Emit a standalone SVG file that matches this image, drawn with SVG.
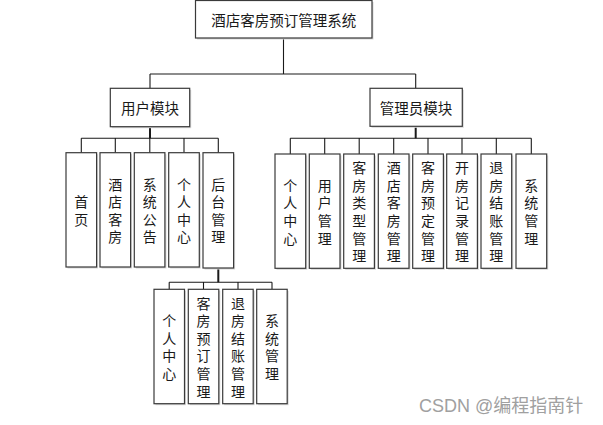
<svg xmlns="http://www.w3.org/2000/svg" width="603" height="425" viewBox="0 0 603 425">
<style>
.box{fill:#ffffff;stroke:#3a3a3a;stroke-width:1.2}
.sh{fill:#d8d8d8}
.ln{stroke:#1a1a1a;stroke-width:1.1;fill:none}
.lt{stroke:#1a1a1a;stroke-width:2;fill:none}
text{font-family:"Noto Sans CJK SC","Liberation Sans",sans-serif;font-size:14px;fill:#1a1a1a;text-anchor:middle;dominant-baseline:central}
.wm{font-family:"Liberation Sans","Noto Sans CJK SC",sans-serif;font-size:18px;fill:#a0a0a0;text-anchor:start;dominant-baseline:auto}
</style>
<rect width="603" height="425" fill="#ffffff"/>
<g id="connectors">
<path class="ln" d="M283.5 38V74M150 74H415.7"/>
<path class="ln" d="M150 74V88.3M415.7 74V88.3"/>
<path class="lt" d="M150 126.7V138.3"/>
<path class="ln" d="M81.3 138.3H218.3M81.3 138.3V152.7M115.3 138.3V152.7M149.8 138.3V152.7M184 138.3V152.7M218.3 138.3V152.7"/>
<path class="lt" d="M218.3 268V282.3"/>
<path class="ln" d="M169.2 282.3H272M169.2 282.3V289.3M203.5 282.3V289.3M238 282.3V289.3M272 282.3V289.3"/>
<path class="lt" d="M415.7 126.3V138.3"/>
<path class="ln" d="M290.3 138.3H531.3M290.3 138.3V154M324.7 138.3V154M359.2 138.3V154M393.7 138.3V154M428 138.3V154M462 138.3V154M496.3 138.3V154M531.3 138.3V154"/>
</g>
<g id="root"><rect class="sh" x="197" y="2" width="176.5" height="37.5"/><rect class="box" x="195.5" y="0.5" width="176.5" height="37.5"/><text x="283.8" y="19" style="font-size:14.5px">酒店客房预订管理系统</text></g>
<g id="user"><rect class="sh" x="111.8" y="89.8" width="79.4" height="38.4"/><rect class="box" x="110.3" y="88.3" width="79.4" height="38.4"/><text x="150" y="107.5" style="font-size:14.5px">用户模块</text></g>
<g id="admin"><rect class="sh" x="371.5" y="89.8" width="92.3" height="38"/><rect class="box" x="370" y="88.3" width="92.3" height="38"/><text x="416" y="107.3" style="font-size:14.5px">管理员模块</text></g>

<g id="u1"><rect class="sh" x="67.5" y="154.2" width="30.6" height="114.3"/><rect class="box" x="66" y="152.7" width="30.6" height="114.3"/><text x="81.3 81.3" y="201.2 218.8">首页</text></g>
<g id="u2"><rect class="sh" x="101.5" y="154.2" width="30.6" height="114.3"/><rect class="box" x="100" y="152.7" width="30.6" height="114.3"/><text x="115.3 115.3 115.3 115.3" y="183.6 201.2 218.8 236.4">酒店客房</text></g>
<g id="u3"><rect class="sh" x="135.8" y="154.2" width="30.6" height="114.3"/><rect class="box" x="134.3" y="152.7" width="30.6" height="114.3"/><text x="149.8 149.8 149.8 149.8" y="183.6 201.2 218.8 236.4">系统公告</text></g>
<g id="u4"><rect class="sh" x="170.2" y="154.2" width="30.6" height="114.3"/><rect class="box" x="168.7" y="152.7" width="30.6" height="114.3"/><text x="184 184 184 184" y="183.6 201.2 218.8 236.4">个人中心</text></g>
<g id="u5"><rect class="sh" x="204.5" y="154.2" width="30.6" height="115.3"/><rect class="box" x="203" y="152.7" width="30.6" height="115.3"/><text x="218.3 218.3 218.3 218.3" y="183.6 201.2 218.8 236.4">后台管理</text></g>

<g id="s1"><rect class="sh" x="155.5" y="290.8" width="30.5" height="114.4"/><rect class="box" x="154" y="289.3" width="30.5" height="114.4"/><text x="169.2 169.2 169.2 169.2" y="320.1 337.7 355.3 372.9">个人中心</text></g>
<g id="s2"><rect class="sh" x="189.8" y="290.8" width="30.5" height="114.4"/><rect class="box" x="188.3" y="289.3" width="30.5" height="114.4"/><text x="203.5 203.5 203.5 203.5 203.5 203.5" y="302.5 320.1 337.7 355.3 372.9 390.5">客房预订管理</text></g>
<g id="s3"><rect class="sh" x="224.2" y="290.8" width="30.5" height="114.4"/><rect class="box" x="222.7" y="289.3" width="30.5" height="114.4"/><text x="238 238 238 238 238 238" y="302.5 320.1 337.7 355.3 372.9 390.5">退房结账管理</text></g>
<g id="s4"><rect class="sh" x="258.2" y="290.8" width="30.5" height="114.4"/><rect class="box" x="256.7" y="289.3" width="30.5" height="114.4"/><text x="272 272 272 272" y="320.1 337.7 355.3 372.9">系统管理</text></g>

<g id="a1"><rect class="sh" x="276.5" y="155.5" width="30.7" height="114.3"/><rect class="box" x="275" y="154" width="30.7" height="114.3"/><text x="290.3 290.3 290.3 290.3" y="184.8 202.4 220 237.6">个人中心</text></g>
<g id="a2"><rect class="sh" x="310.8" y="155.5" width="30.7" height="114.3"/><rect class="box" x="309.3" y="154" width="30.7" height="114.3"/><text x="324.7 324.7 324.7 324.7" y="184.8 202.4 220 237.6">用户管理</text></g>
<g id="a3"><rect class="sh" x="345.2" y="155.5" width="30.7" height="114.3"/><rect class="box" x="343.7" y="154" width="30.7" height="114.3"/><text x="359.2 359.2 359.2 359.2 359.2 359.2" y="167.2 184.8 202.4 220 237.6 255.2">客房类型管理</text></g>
<g id="a4"><rect class="sh" x="379.8" y="155.5" width="30.7" height="114.3"/><rect class="box" x="378.3" y="154" width="30.7" height="114.3"/><text x="393.7 393.7 393.7 393.7 393.7 393.7" y="167.2 184.8 202.4 220 237.6 255.2">酒店客房管理</text></g>
<g id="a5"><rect class="sh" x="414.2" y="155.5" width="30.7" height="114.3"/><rect class="box" x="412.7" y="154" width="30.7" height="114.3"/><text x="428 428 428 428 428 428" y="167.2 184.8 202.4 220 237.6 255.2">客房预定管理</text></g>
<g id="a6"><rect class="sh" x="448.2" y="155.5" width="30.7" height="114.3"/><rect class="box" x="446.7" y="154" width="30.7" height="114.3"/><text x="462 462 462 462 462 462" y="167.2 184.8 202.4 220 237.6 255.2">开房记录管理</text></g>
<g id="a7"><rect class="sh" x="482.5" y="155.5" width="30.7" height="114.3"/><rect class="box" x="481" y="154" width="30.7" height="114.3"/><text x="496.3 496.3 496.3 496.3 496.3 496.3" y="167.2 184.8 202.4 220 237.6 255.2">退房结账管理</text></g>
<g id="a8"><rect class="sh" x="517.5" y="155.5" width="30.7" height="114.3"/><rect class="box" x="516" y="154" width="30.7" height="114.3"/><text x="531.3 531.3 531.3 531.3" y="184.8 202.4 220 237.6">系统管理</text></g>

<text class="wm" x="419" y="412">CSDN @编程指南针</text>
</svg>
